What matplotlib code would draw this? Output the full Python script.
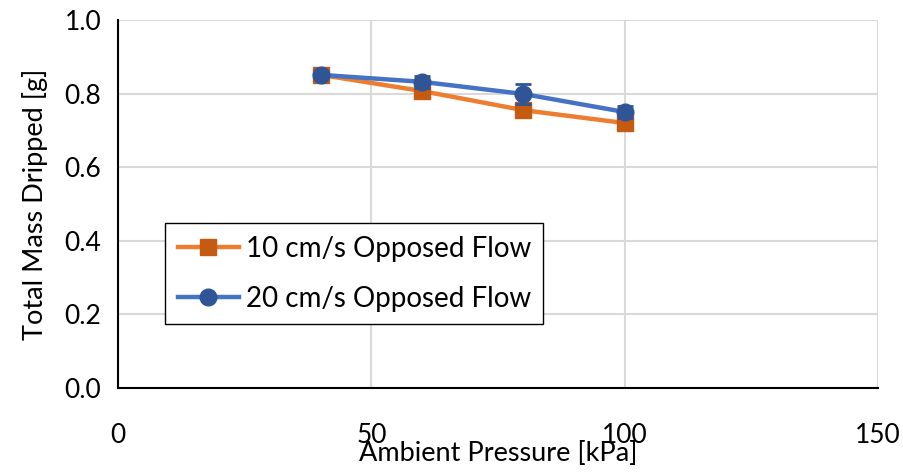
import matplotlib
matplotlib.use("Agg")
import matplotlib.pyplot as plt

plt.rcParams['font.family'] = ['Lato', 'DejaVu Sans']

pressure = [40, 60, 80, 100]
mass_10 = [0.851, 0.807, 0.755, 0.720]
mass_20 = [0.851, 0.832, 0.799, 0.750]
err_10 = [0.0, 0.0, 0.0, 0.0]
err_20 = [0.005, 0.016, 0.027, 0.015]
labels = ["10 cm/s Opposed Flow", "20 cm/s Opposed Flow"]

fig = plt.figure(figsize=(9.04, 4.76), dpi=100)
ax = fig.add_axes([118/904, 1-388/476, 760/904, 368/476])

e1 = ax.errorbar(pressure, mass_10, yerr=err_10, color='#ED7D31', lw=3.2,
                 marker='s', ms=11.5, mfc='#C55A11', mec='#C55A11',
                 ecolor='#C55A11', capsize=6, elinewidth=1.5, zorder=3)
e2 = ax.errorbar(pressure, mass_20, yerr=err_20, color='#4472C4', lw=3.2,
                 marker='o', ms=12, mfc='#2F5597', mec='#2F5597',
                 ecolor='#2F5597', capsize=6, elinewidth=1.5, capthick=2, zorder=4)

ax.set_xlim(0, 150)
ax.set_ylim(0, 1.0)
ax.set_xticks([0, 50, 100, 150])
ax.set_yticks([0, 0.2, 0.4, 0.6, 0.8, 1.0])
ax.set_yticklabels(["0.0", "0.2", "0.4", "0.6", "0.8", "1.0"])
ax.grid(True, color='#D9D9D9', lw=1.5)
ax.set_axisbelow(True)
for s in ['top', 'right']:
    ax.spines[s].set_visible(False)
ax.spines['left'].set_linewidth(1.5)
ax.spines['bottom'].set_linewidth(1.5)
ax.tick_params(length=0, labelsize=19)
ax.tick_params(axis='x', pad=25)
ax.tick_params(axis='y', pad=12)

ax.set_xlabel("Ambient Pressure [kPa]", fontsize=19.5, labelpad=-5)
ax.set_ylabel("Total Mass Dripped [g]", fontsize=19.5, labelpad=12)

leg = ax.legend([e1[0], e2[0]], labels, loc='lower left',
                bbox_to_anchor=((165-118)/760, (388-324)/368),
                fontsize=20, frameon=True, fancybox=False, edgecolor='black',
                framealpha=1, borderaxespad=0, handlelength=2.2, borderpad=0.45,
                handletextpad=0.25, labelspacing=0.85)
leg.get_frame().set_linewidth(1.0)

fig.savefig("out.png", dpi=100)
